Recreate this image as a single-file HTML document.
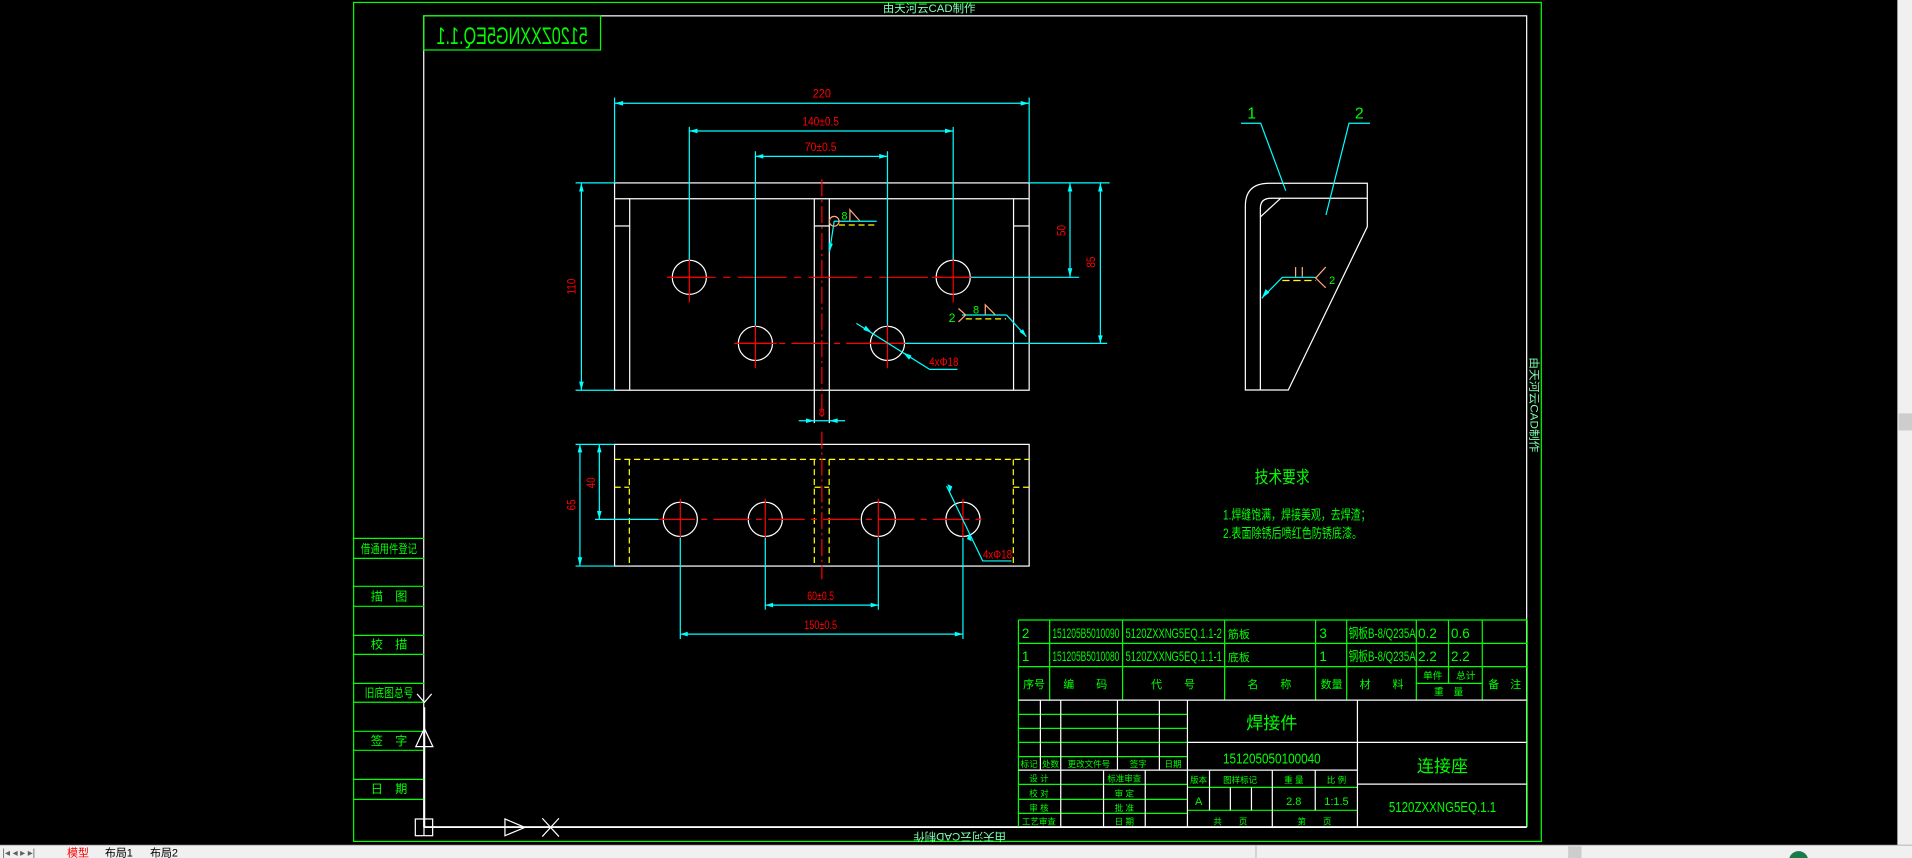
<!DOCTYPE html>
<html><head><meta charset="utf-8"><style>
html,body{margin:0;padding:0;background:#000;overflow:hidden}
svg{display:block}
text{font-family:"Liberation Sans","Noto Sans CJK SC",sans-serif}
</style></head><body>
<svg width="1912" height="858" viewBox="0 0 1568 703.6" preserveAspectRatio="none" xmlns="http://www.w3.org/2000/svg">
<rect width="1568" height="704" fill="#000"/>
<!-- frames -->
<rect x="290" y="2" width="974" height="688" fill="none" stroke="#00ff00" stroke-width="1"/>
<rect x="347.5" y="13" width="904.5" height="665" fill="none" stroke="#fff" stroke-width="1"/>
<text x="762" y="10" font-size="9" fill="#80ffb0" text-anchor="middle" textLength="76" lengthAdjust="spacingAndGlyphs">由天河云CAD制作</text>
<text x="0" y="0" font-size="9" fill="#80ffb0" text-anchor="middle" textLength="76" lengthAdjust="spacingAndGlyphs" transform="translate(787,683) rotate(180)">由天河云CAD制作</text>
<text x="0" y="0" font-size="9" fill="#80ffb0" text-anchor="middle" textLength="78" lengthAdjust="spacingAndGlyphs" transform="translate(1255,332) rotate(90)">由天河云CAD制作</text>
<!-- top-left box -->
<rect x="347.5" y="13" width="145" height="28" fill="none" stroke="#00ff00"/>
<text x="0" y="0" font-size="20" fill="#00ff00" text-anchor="middle" textLength="124" lengthAdjust="spacingAndGlyphs" transform="translate(420,36) scale(-1,1)">5120ZXXNG5EQ.1.1</text>

<!-- FRONT VIEW -->
<g stroke="#fff" stroke-width="1" fill="none">
<rect x="504" y="150" width="340" height="170"/>
<line x1="504" y1="163" x2="844" y2="163"/>
<line x1="516.4" y1="163" x2="516.4" y2="320"/>
<line x1="831.2" y1="163" x2="831.2" y2="320"/>
<line x1="504" y1="185.3" x2="516.4" y2="185.3"/>
<line x1="831.2" y1="185.3" x2="844" y2="185.3"/>
<line x1="667.8" y1="163" x2="667.8" y2="347"/>
<line x1="680.1" y1="163" x2="680.1" y2="347"/>
<line x1="667.8" y1="185.3" x2="680.1" y2="185.3"/>
<circle cx="565.3" cy="227.4" r="14"/>
<circle cx="781.7" cy="227.4" r="14"/>
<circle cx="619.5" cy="281.6" r="14"/>
<circle cx="727.8" cy="281.6" r="14"/>
</g>
<g stroke="#ff0000" stroke-width="1" fill="none">
<line x1="674" y1="147" x2="674" y2="345" stroke-dasharray="14,3,2,3"/>
<line x1="547" y1="227.4" x2="800" y2="227.4" stroke-dasharray="40,6,6,6"/>
<line x1="604" y1="281.6" x2="744" y2="281.6" stroke-dasharray="30,5,5,5"/>
<line x1="565.3" y1="208" x2="565.3" y2="248"/><line x1="548" y1="227.4" x2="582" y2="227.4"/>
<line x1="781.7" y1="208" x2="781.7" y2="248"/><line x1="764" y1="227.4" x2="799" y2="227.4"/>
<line x1="619.5" y1="262" x2="619.5" y2="302"/><line x1="602" y1="281.6" x2="637" y2="281.6"/>
<line x1="727.8" y1="262" x2="727.8" y2="302"/><line x1="710" y1="281.6" x2="745" y2="281.6"/>
</g>
<g stroke="#00ffff" stroke-width="1" fill="none">
<line x1="504" y1="80" x2="504" y2="150"/><line x1="844" y1="80" x2="844" y2="150"/>
<line x1="504" y1="84.7" x2="844" y2="84.7"/>
<line x1="565.3" y1="104" x2="565.3" y2="213"/><line x1="781.7" y1="104" x2="781.7" y2="213"/>
<line x1="565.3" y1="107.4" x2="781.7" y2="107.4"/>
<line x1="619.5" y1="124" x2="619.5" y2="267"/><line x1="727.8" y1="124" x2="727.8" y2="267"/>
<line x1="619.5" y1="128.2" x2="727.8" y2="128.2"/>
<line x1="472" y1="150" x2="504" y2="150"/><line x1="472" y1="320" x2="504" y2="320"/>
<line x1="476.8" y1="150" x2="476.8" y2="320"/>
<line x1="844" y1="150" x2="910" y2="150"/>
<line x1="796" y1="227.4" x2="885" y2="227.4"/>
<line x1="742" y1="281.6" x2="908" y2="281.6"/>
<line x1="877.5" y1="150" x2="877.5" y2="227.4"/>
<line x1="902.4" y1="150" x2="902.4" y2="281.6"/>
<line x1="655" y1="345" x2="693" y2="345"/>
<line x1="680.3" y1="206.4" x2="684.1" y2="181.4"/>
<line x1="684.1" y1="181.4" x2="719" y2="181.4"/>
<line x1="789" y1="258.3" x2="825.5" y2="258.3"/>
<line x1="825.5" y1="258.3" x2="841.7" y2="276"/>
<polyline points="702.3,265.2 762.4,302.9 785.2,302.9"/>
</g>
<g fill="#00ffff">
<polygon points="504,84.7 511,82.8 511,86.6"/><polygon points="844,84.7 837,82.8 837,86.6"/>
<polygon points="565.3,107.4 572,105.5 572,109.3"/><polygon points="781.7,107.4 775,105.5 775,109.3"/>
<polygon points="619.5,128.2 626,126.3 626,130.1"/><polygon points="727.8,128.2 721,126.3 721,130.1"/>
<polygon points="476.8,150 474.9,157 478.7,157"/><polygon points="476.8,320 474.9,313 478.7,313"/>
<polygon points="877.5,150 875.6,157 879.4,157"/><polygon points="877.5,227.4 875.6,220 879.4,220"/>
<polygon points="902.4,150 900.5,157 904.3,157"/><polygon points="902.4,281.6 900.5,275 904.3,275"/>
<polygon points="667.8,345 661,343.1 661,346.9"/><polygon points="680.1,345 687,343.1 687,346.9"/>
<polygon points="680.3,206.4 679.5,199 683,200"/>
<polygon points="841.7,276 836,272 839,270"/>
<polygon points="715,273 708,270.5 710,267"/><polygon points="740.5,289 747.5,291.5 745.5,295"/>
</g>
<circle cx="684.1" cy="181.4" r="4" fill="none" stroke="#ffaa77"/>
<polyline points="697,181 697,172 705,181" fill="none" stroke="#ffaa77"/>
<line x1="688" y1="184.5" x2="719" y2="184.5" stroke="#ffff00" stroke-dasharray="5,3"/>
<text x="690" y="180" font-size="9" fill="#00ff00">8</text>
<polyline points="786,253 792,258.3 786,264" fill="none" stroke="#ffaa77"/>
<polyline points="808,258 808,250 816,258" fill="none" stroke="#ffaa77"/>
<line x1="792" y1="261.5" x2="825" y2="261.5" stroke="#ffff00" stroke-dasharray="5,3"/>
<text x="798" y="257" font-size="9" fill="#00ff00">8</text>
<text x="778" y="264" font-size="10" fill="#00ff00">2</text>
<g fill="#ff0000" font-size="10" text-anchor="middle">
<text x="674" y="80" textLength="15" lengthAdjust="spacingAndGlyphs">220</text>
<text x="673" y="103" textLength="30" lengthAdjust="spacingAndGlyphs">140±0.5</text>
<text x="673" y="124" textLength="26" lengthAdjust="spacingAndGlyphs">70±0.5</text>
<text x="674" y="341" font-size="9">8</text>
<text x="774" y="300" textLength="24" lengthAdjust="spacingAndGlyphs">4xΦ18</text>
<text transform="translate(472,235) rotate(-90)" textLength="13" lengthAdjust="spacingAndGlyphs">110</text>
<text transform="translate(874,189) rotate(-90)" textLength="9" lengthAdjust="spacingAndGlyphs">50</text>
<text transform="translate(898,215) rotate(-90)" textLength="9" lengthAdjust="spacingAndGlyphs">85</text>
</g>

<!-- BOTTOM VIEW -->
<g stroke="#fff" fill="none">
<rect x="504" y="364.4" width="340" height="99.8"/>
<circle cx="557.9" cy="425.9" r="14"/><circle cx="627.6" cy="425.9" r="14"/>
<circle cx="720.3" cy="425.9" r="14"/><circle cx="789.7" cy="425.9" r="14"/>
</g>
<g stroke="#ffff00" fill="none" stroke-dasharray="5,3">
<line x1="504" y1="376.7" x2="844" y2="376.7"/>
<line x1="516.1" y1="376.7" x2="516.1" y2="464"/><line x1="831" y1="376.7" x2="831" y2="464"/>
<line x1="667.8" y1="376.7" x2="667.8" y2="464"/><line x1="680" y1="376.7" x2="680" y2="464"/>
<line x1="504" y1="399.6" x2="516" y2="399.6"/><line x1="668" y1="399.6" x2="680" y2="399.6"/><line x1="831" y1="399.6" x2="844" y2="399.6"/>
</g>
<g stroke="#ff0000" fill="none">
<line x1="540" y1="425.9" x2="808" y2="425.9" stroke-dasharray="30,5,5,5"/>
<line x1="674" y1="354" x2="674" y2="475" stroke-dasharray="14,3,2,3"/>
<line x1="557.9" y1="409" x2="557.9" y2="443"/><line x1="627.6" y1="409" x2="627.6" y2="443"/>
<line x1="720.3" y1="409" x2="720.3" y2="443"/><line x1="789.7" y1="409" x2="789.7" y2="443"/>
</g>
<g stroke="#00ffff" fill="none">
<line x1="472" y1="364.4" x2="504" y2="364.4"/><line x1="472" y1="464.2" x2="504" y2="464.2"/>
<line x1="475.6" y1="364.4" x2="475.6" y2="464.2"/>
<line x1="491.5" y1="364.4" x2="491.5" y2="425.9"/>
<line x1="488" y1="425.9" x2="540" y2="425.9"/>
<line x1="627.6" y1="441" x2="627.6" y2="500"/><line x1="720.3" y1="441" x2="720.3" y2="500"/>
<line x1="627.6" y1="496.2" x2="720.3" y2="496.2"/>
<line x1="557.9" y1="441" x2="557.9" y2="524"/><line x1="789.7" y1="441" x2="789.7" y2="524"/>
<line x1="557.9" y1="520" x2="789.7" y2="520"/>
<polyline points="776.3,398.6 805.9,460 829.6,460"/>
</g>
<g fill="#00ffff">
<polygon points="475.6,364.4 473.7,371 477.5,371"/><polygon points="475.6,464.2 473.7,457 477.5,457"/>
<polygon points="491.5,364.4 489.6,371 493.4,371"/><polygon points="491.5,425.9 489.6,419 493.4,419"/>
<polygon points="627.6,496.2 634,494.3 634,498.1"/><polygon points="720.3,496.2 714,494.3 714,498.1"/>
<polygon points="557.9,520 564,518.1 564,521.9"/><polygon points="789.7,520 783,518.1 783,521.9"/>
<polygon points="779,404 777,397 781,399"/><polygon points="795,437 797,444 793,442"/>
</g>
<g fill="#ff0000" font-size="10" text-anchor="middle">
<text x="673" y="492" textLength="22" lengthAdjust="spacingAndGlyphs">60±0.5</text>
<text x="673" y="516" textLength="27" lengthAdjust="spacingAndGlyphs">150±0.5</text>
<text x="818" y="458" textLength="24" lengthAdjust="spacingAndGlyphs">4xΦ18</text>
<text transform="translate(472,414) rotate(-90)" textLength="9" lengthAdjust="spacingAndGlyphs">65</text>
<text transform="translate(488,396) rotate(-90)" textLength="9" lengthAdjust="spacingAndGlyphs">40</text>
</g>

<!-- SIDE VIEW -->
<g stroke="#fff" fill="none">
<path d="M1021.3,319.8 L1021.3,169 Q1021.3,150.3 1040.9,150.3 L1121.3,150.3 L1121.3,185.9 L1056.5,319.8 Z"/>
<path d="M1033.6,319.8 L1033.6,170.8 Q1033.6,162.6 1042.3,162.6 L1121.3,162.6"/>
<line x1="1033.6" y1="177.9" x2="1050.2" y2="162.6"/>
</g>
<g stroke="#00ffff" fill="none">
<polyline points="1017.7,101.1 1033.9,101.1 1054.4,156.4"/>
<polyline points="1123.5,101.1 1106.3,101.1 1087.4,176.3"/>
<polyline points="1034.7,244.6 1051.6,227.4 1079,227.4"/>
</g>
<polygon points="1034.7,244.6 1038,237 1041,240" fill="#00ffff"/>
<line x1="1051.6" y1="230" x2="1079" y2="230" stroke="#ffff00" stroke-dasharray="6,3"/>
<line x1="1062.5" y1="219" x2="1062.5" y2="227" stroke="#ffaa77"/>
<line x1="1068" y1="219" x2="1068" y2="227" stroke="#ffaa77"/>
<polyline points="1087.2,219 1079,228 1087.2,236" fill="none" stroke="#ffaa77"/>
<g fill="#00ff00">
<text x="1026.5" y="97" font-size="13" text-anchor="middle">1</text>
<text x="1114.7" y="97" font-size="13" text-anchor="middle">2</text>
<text x="1090" y="233" font-size="9">2</text>
</g>

<g fill="#00ff00">
<text x="1029" y="396" font-size="14" textLength="45" lengthAdjust="spacingAndGlyphs">技术要求</text>
<text x="1003" y="426" font-size="11" textLength="121" lengthAdjust="spacingAndGlyphs">1.焊缝饱满，焊接美观，去焊渣；</text>
<text x="1003" y="441" font-size="11" textLength="114" lengthAdjust="spacingAndGlyphs">2.表面除锈后喷红色防锈底漆。</text>
</g>

<!-- LEFT COLUMN -->
<g stroke="#00ff00">
<line x1="290" y1="441.5" x2="348" y2="441.5"/><line x1="290" y1="457.9" x2="348" y2="457.9"/>
<line x1="290" y1="480.8" x2="348" y2="480.8"/><line x1="290" y1="497.2" x2="348" y2="497.2"/>
<line x1="290" y1="521" x2="348" y2="521"/><line x1="290" y1="536.6" x2="348" y2="536.6"/>
<line x1="290" y1="560.4" x2="348" y2="560.4"/><line x1="290" y1="575.9" x2="348" y2="575.9"/>
<line x1="290" y1="599.7" x2="348" y2="599.7"/><line x1="290" y1="615.3" x2="348" y2="615.3"/>
<line x1="290" y1="639.1" x2="348" y2="639.1"/><line x1="290" y1="655.5" x2="348" y2="655.5"/>
</g>
<g fill="#00ff00" font-size="10" text-anchor="middle">
<text x="319" y="453.5" textLength="46" lengthAdjust="spacingAndGlyphs">借通用件登记</text>
<text x="319" y="492.5">描　图</text>
<text x="319" y="532">校　描</text>
<text x="319" y="571.5" textLength="40" lengthAdjust="spacingAndGlyphs">旧底图总号</text>
<text x="319" y="611">签　字</text>
<text x="319" y="650.5">日　期</text>
</g>
<g stroke="#fff" fill="none">
<line x1="348" y1="580" x2="348" y2="678.5" stroke-width="1.5"/>
<line x1="348" y1="678.5" x2="1252" y2="678.5"/>
<rect x="340.6" y="671.6" width="14.2" height="13.7"/>
<line x1="347.7" y1="671.6" x2="347.7" y2="685.3"/>
<polygon points="348,597.3 341,612.3 355,612.3"/>
<polyline points="342,569 348,576 354,569"/>
<polygon points="430.5,678.5 414.1,671.6 414.1,685.3"/>
<line x1="444.7" y1="671" x2="458.4" y2="686"/><line x1="458.4" y1="671" x2="444.7" y2="686"/>
</g>

<!-- TITLE BLOCK -->
<g stroke="#00ff00" fill="none">
<line x1="835.2" y1="508.4" x2="1252.4" y2="508.4"/>
<line x1="835.2" y1="527.6" x2="1252.4" y2="527.6"/>
<line x1="835.2" y1="546.7" x2="1252.4" y2="546.7"/>
<line x1="1161.5" y1="560.4" x2="1215.6" y2="560.4"/>
<line x1="835.2" y1="508.4" x2="835.2" y2="678"/>
<line x1="860.8" y1="508.4" x2="860.8" y2="574.1"/>
<line x1="920.6" y1="508.4" x2="920.6" y2="574.1"/>
<line x1="1004.3" y1="508.4" x2="1004.3" y2="574.1"/>
<line x1="1078.9" y1="508.4" x2="1078.9" y2="574.1"/>
<line x1="1104.4" y1="508.4" x2="1104.4" y2="574.1"/>
<line x1="1161.5" y1="508.4" x2="1161.5" y2="574.1"/>
<line x1="1187.9" y1="508.4" x2="1187.9" y2="560.4"/>
<line x1="1215.6" y1="508.4" x2="1215.6" y2="574.1"/>
<line x1="1252.4" y1="508.4" x2="1252.4" y2="678"/>
<line x1="835.2" y1="585.8" x2="973.8" y2="585.8"/>
<line x1="835.2" y1="597.3" x2="973.8" y2="597.3"/>
<line x1="835.2" y1="608.8" x2="973.8" y2="608.8"/>
<line x1="835.2" y1="620.5" x2="973.8" y2="620.5"/>
<line x1="835.2" y1="643.2" x2="973.8" y2="643.2"/>
<line x1="835.2" y1="655.5" x2="973.8" y2="655.5"/>
<line x1="835.2" y1="667" x2="973.8" y2="667"/>
<line x1="973.8" y1="645.7" x2="1113.2" y2="645.7"/>
<line x1="973.8" y1="664.5" x2="1113.2" y2="664.5"/>
</g>
<g stroke="#fff" fill="none">
<line x1="835.2" y1="574.1" x2="1252.4" y2="574.1"/>
<line x1="835.2" y1="631.5" x2="1113.2" y2="631.5"/>
<line x1="973.8" y1="608.8" x2="1252.4" y2="608.8"/>
<line x1="1113.2" y1="643" x2="1252.4" y2="643"/>
<line x1="853.2" y1="574.1" x2="853.2" y2="631.5"/>
<line x1="869.9" y1="574.1" x2="869.9" y2="678"/>
<line x1="916.4" y1="574.1" x2="916.4" y2="631.5"/>
<line x1="950.8" y1="574.1" x2="950.8" y2="631.5"/>
<line x1="973.8" y1="574.1" x2="973.8" y2="678"/>
<line x1="905" y1="631.5" x2="905" y2="678"/>
<line x1="939.2" y1="631.5" x2="939.2" y2="678"/>
<line x1="1113.2" y1="574.1" x2="1113.2" y2="678"/>
<line x1="991.9" y1="631.5" x2="991.9" y2="664.5"/>
<line x1="1009" y1="645.7" x2="1009" y2="664.5"/>
<line x1="1026.3" y1="645.7" x2="1026.3" y2="664.5"/>
<line x1="1043.4" y1="631.5" x2="1043.4" y2="678"/>
<line x1="1078.6" y1="631.5" x2="1078.6" y2="664.5"/>
</g>
<g fill="#00ff00" font-size="11">
<text x="838" y="523">2</text>
<text x="863" y="523" textLength="55" lengthAdjust="spacingAndGlyphs">151205B5010090</text>
<text x="923" y="523" textLength="79" lengthAdjust="spacingAndGlyphs">5120ZXXNG5EQ.1.1-2</text>
<text x="1007" y="523" font-size="9">筋板</text>
<text x="1082" y="523">3</text>
<text x="1106" y="523" textLength="55" lengthAdjust="spacingAndGlyphs">钢板B-8/Q235A</text>
<text x="1163" y="523">0.2</text>
<text x="1190" y="523">0.6</text>
<text x="838" y="542">1</text>
<text x="863" y="542" textLength="55" lengthAdjust="spacingAndGlyphs">151205B5010080</text>
<text x="923" y="542" textLength="79" lengthAdjust="spacingAndGlyphs">5120ZXXNG5EQ.1.1-1</text>
<text x="1007" y="542" font-size="9">底板</text>
<text x="1082" y="542">1</text>
<text x="1106" y="542" textLength="55" lengthAdjust="spacingAndGlyphs">钢板B-8/Q235A</text>
<text x="1163" y="542">2.2</text>
<text x="1190" y="542">2.2</text>
</g>
<g fill="#00ff00" font-size="9" text-anchor="middle">
<text x="848" y="564">序号</text>
<text x="890" y="564">编　　码</text>
<text x="962" y="564">代　　号</text>
<text x="1041" y="564">名　　称</text>
<text x="1092" y="564">数量</text>
<text x="1133" y="564">材　　料</text>
<text x="1175" y="557" font-size="8">单件</text>
<text x="1202" y="557" font-size="8">总计</text>
<text x="1188" y="570" font-size="8">重　量</text>
<text x="1234" y="564">备　注</text>
<g font-size="7">
<text x="844" y="629">标记</text><text x="861.5" y="629">处数</text><text x="893" y="629">更改文件号</text><text x="933.5" y="629">签字</text><text x="962" y="629">日期</text>
<text x="852" y="641">设 计</text><text x="922" y="641">标准审查</text>
<text x="852" y="653">校 对</text><text x="922" y="653">审 定</text>
<text x="852" y="665">审 核</text><text x="922" y="665">批 准</text>
<text x="852" y="676">工艺审查</text><text x="922" y="676">日 期</text>
<text x="983" y="642">版本</text><text x="1017" y="642">图样标记</text><text x="1061" y="642">重 量</text><text x="1096" y="642">比 例</text>
<text x="1009" y="676">共　　页</text><text x="1078" y="676">第　　页</text>
</g>
<text x="983" y="660" font-size="9">A</text>
<text x="1061" y="660" font-size="9">2.8</text>
<text x="1096" y="660" font-size="9">1:1.5</text>
<text x="1043" y="598" font-size="14">焊接件</text>
<text x="1043" y="626" font-size="12" textLength="80" lengthAdjust="spacingAndGlyphs">151205050100040</text>
<text x="1183" y="633" font-size="14">连接座</text>
<text x="1183" y="666" font-size="12" textLength="88" lengthAdjust="spacingAndGlyphs">5120ZXXNG5EQ.1.1</text>
</g>

<!-- UI chrome -->
<rect x="1556" y="0" width="12" height="693" fill="#f0f0f0"/>
<rect x="1557" y="339" width="11" height="14" fill="#cdcdcd"/>
<rect x="0" y="693" width="1568" height="11" fill="#f0f0f0"/>
<line x1="0" y1="693" x2="1568" y2="693" stroke="#a0a0a0" stroke-width="0.6"/>
<g fill="#606060" font-size="8">
<text x="2" y="702">|◂ ◂ ▸ ▸|</text>
</g>
<text x="55" y="702.5" font-size="9" fill="#ff0000">模型</text>
<text x="86" y="702.5" font-size="9" fill="#000">布局1</text>
<text x="123" y="702.5" font-size="9" fill="#000">布局2</text>
<line x1="1030" y1="693" x2="1030" y2="704" stroke="#c0c0c0"/>
<rect x="1286" y="694" width="11" height="10" fill="#cdcdcd"/>
<circle cx="1475" cy="706" r="8" fill="#1a7a4a"/>
</svg>
</body></html>
